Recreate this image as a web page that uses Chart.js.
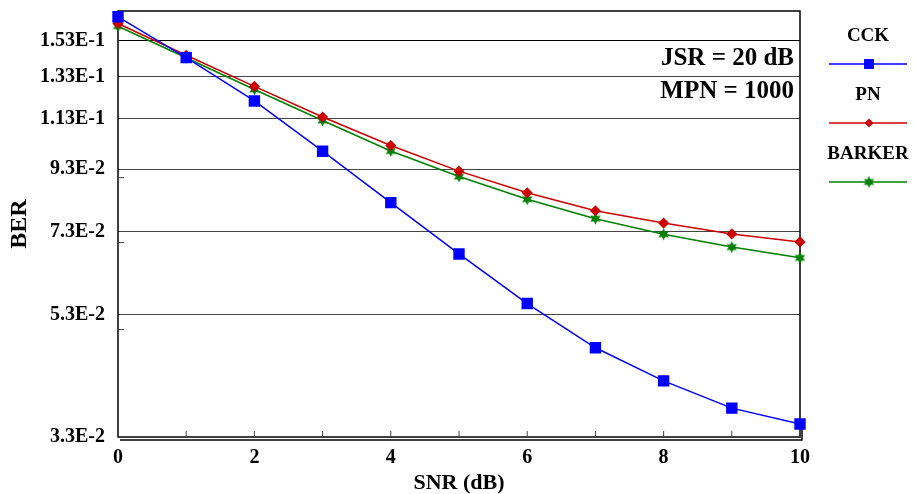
<!DOCTYPE html>
<html>
<head>
<meta charset="utf-8">
<script src="https://cdn.jsdelivr.net/npm/chart.js@4/dist/chart.umd.min.js"></script>
<style>
  html, body { margin: 0; padding: 0; background: #fff; }
  #wrap { width: 914px; height: 494px; position: relative; }
</style>
</head>
<body>
<div id="wrap"><canvas id="chart"></canvas></div>
<script>
const snr = [0, 1, 2, 3, 4, 5, 6, 7, 8, 9, 10];
const cck = [0.1677, 0.1432, 0.1211, 0.0997, 0.0817, 0.0670, 0.0553, 0.0466, 0.0410, 0.0369, 0.0347];
const pn = [0.1634, 0.1445, 0.1281, 0.1138, 0.1019, 0.0923, 0.0849, 0.0792, 0.0755, 0.0724, 0.0702];
const barker = [0.1617, 0.1431, 0.1266, 0.1123, 0.0998, 0.0904, 0.0828, 0.0768, 0.0723, 0.0688, 0.0660];
const yTicks = [0.153, 0.133, 0.113, 0.093, 0.073, 0.053, 0.033];
const yLabels = ['1.53E-1', '1.33E-1', '1.13E-1', '9.3E-2', '7.3E-2', '5.3E-2', '3.3E-2'];
const yMinor = [0.09, 0.07, 0.05];
const notes = ['JSR = 20 dB', 'MPN = 1000'];

const serif = "'Liberation Serif', 'Times New Roman', serif";

// six-pointed star marker for BARKER
function starImage(color) {
    const c = document.createElement('canvas');
    c.width = 13; c.height = 13;
    const g = c.getContext('2d');
    g.fillStyle = color;
    g.beginPath();
    for (let i = 0; i < 12; i++) {
        const r = i % 2 === 0 ? 6 : 3.2;
        const a = -Math.PI / 2 + i * Math.PI / 6;
        const px = 6.5 + r * Math.cos(a), py = 6.5 + r * Math.sin(a);
        if (i === 0) g.moveTo(px, py); else g.lineTo(px, py);
    }
    g.closePath();
    g.fill();
    return c;
}
const barkerStar = starImage('#008000');

function drawMarker(ctx, ds, x, y) {
    ctx.save();
    ctx.fillStyle = ds.pointBackgroundColor;
    if (ds.pointStyle === 'rect') {
        const s = ds.pointRadius * Math.SQRT1_2;
        ctx.fillRect(x - s, y - s, 2 * s, 2 * s);
    } else if (ds.pointStyle === 'rectRot') {
        const r = ds.pointRadius;
        ctx.beginPath();
        ctx.moveTo(x, y - r); ctx.lineTo(x + r, y); ctx.lineTo(x, y + r); ctx.lineTo(x - r, y);
        ctx.closePath(); ctx.fill();
    } else {
        ctx.drawImage(ds.pointStyle, x - 6.5, y - 6.5);
    }
    ctx.restore();
}

const framePlugin = {
    id: 'frame',
    beforeDatasetsDraw(chart) {
        const ctx = chart.ctx, a = chart.chartArea;
        const xs = chart.scales.x, ys = chart.scales.y;
        ctx.save();
        ctx.strokeStyle = '#000';
        ctx.lineWidth = 1.5;
        ctx.strokeRect(a.left, a.top, a.right - a.left, a.bottom - a.top);
        // second bottom line
        ctx.beginPath();
        ctx.moveTo(a.left + 2, a.bottom + 3);
        ctx.lineTo(a.right + 2, a.bottom + 3);
        ctx.lineTo(a.right + 2, a.bottom - 8);
        ctx.stroke();
        // inner x ticks
        ctx.lineWidth = 1;
        ctx.strokeStyle = '#444';
        snr.forEach(v => {
            const px = xs.getPixelForValue(v);
            ctx.beginPath();
            ctx.moveTo(px, a.bottom);
            ctx.lineTo(px, a.bottom - 6);
            ctx.stroke();
        });
        // minor y ticks
        yMinor.forEach(v => {
            const py = ys.getPixelForValue(v);
            ctx.beginPath();
            ctx.moveTo(a.left, py);
            ctx.lineTo(a.left + 6, py);
            ctx.stroke();
        });
        ctx.restore();
    },
    afterDraw(chart) {
        const ctx = chart.ctx, a = chart.chartArea;
        ctx.save();
        // notes in top right
        ctx.fillStyle = '#000';
        ctx.font = 'bold 25px ' + serif;
        ctx.textAlign = 'right';
        ctx.textBaseline = 'middle';
        notes.forEach((t, i) => ctx.fillText(t, a.right - 6, a.top + 48 + i * 33));
        // legend at the right
        ctx.textAlign = 'center';
        ctx.font = 'bold 19px ' + serif;
        chart.data.datasets.forEach((ds, i) => {
            const cy = a.top + 25 + i * 59;
            ctx.fillStyle = '#000';
            ctx.fillText(ds.label, 868, cy);
            ctx.strokeStyle = ds.borderColor;
            ctx.lineWidth = 1.5;
            ctx.beginPath();
            ctx.moveTo(829, cy + 28);
            ctx.lineTo(907, cy + 28);
            ctx.stroke();
            drawMarker(ctx, ds, 869, cy + 28);
        });
        ctx.restore();
    }
};

const data = {
    labels: snr,
    datasets: [{
        label: 'CCK',
        data: cck,
        borderColor: '#0000ff',
        pointBackgroundColor: '#0000ff',
        pointBorderColor: '#0000ff',
        pointStyle: 'rect',
        pointRadius: 7,
        borderWidth: 1.5
    },
    {
        label: 'PN',
        data: pn,
        borderColor: '#cc0000',
        pointBackgroundColor: '#cc0000',
        pointBorderColor: '#cc0000',
        pointStyle: 'rectRot',
        pointRadius: 4.5,
        borderWidth: 1.5
    },
    {
        label: 'BARKER',
        data: barker,
        borderColor: '#008000',
        pointBackgroundColor: '#008000',
        pointBorderColor: '#008000',
        pointStyle: barkerStar,
        pointRadius: 6,
        borderWidth: 1.5
    }]
};

const config = {
    type: 'line',
    data: data,
    plugins: [framePlugin],
    options: {
        responsive: false,
        animation: false,
        clip: false,
        layout: { padding: { top: 11, right: 114, left: 0, bottom: 0 } },
        plugins: { legend: { display: false }, tooltip: { enabled: false } },
        elements: { line: { tension: 0 }, point: { borderWidth: 0 } },
        scales: {
            x: {
                type: 'linear',
                min: 0,
                max: 10,
                afterFit: s => { s.height = 57; },
                border: { display: false },
                grid: { display: false, drawTicks: false },
                ticks: {
                    stepSize: 1,
                    autoSkip: false,
                    maxRotation: 0,
                    padding: 9,
                    color: '#000',
                    font: { family: serif, size: 20, weight: 'bold' },
                    callback: v => (v % 2 === 0 ? v : '')
                },
                title: {
                    display: true,
                    text: 'SNR (dB)',
                    color: '#000',
                    padding: 0,
                    font: { family: serif, size: 22, weight: 'bold', lineHeight: 1 }
                }
            },
            y: {
                type: 'logarithmic',
                min: 0.033,
                max: 0.1715,
                afterFit: s => { s.width = 118; s.paddingTop = 0; s.paddingBottom = 0; },
                afterBuildTicks: s => { s.ticks = yTicks.map(v => ({ value: v })); },
                border: { display: false },
                grid: {
                    drawTicks: false,
                    lineWidth: 1,
                    color: c => (c.tick && c.tick.value === 0.033 ? 'rgba(0,0,0,0)' : (c.index === 0 ? '#000' : '#444'))
                },
                ticks: {
                    padding: 13,
                    color: '#000',
                    font: { family: serif, size: 20, weight: 'bold' },
                    callback: (v, i) => yLabels[i]
                },
                title: {
                    display: true,
                    text: 'BER',
                    color: '#000',
                    padding: { top: 5, bottom: 0 },
                    font: { family: serif, size: 24, weight: 'bold' }
                }
            }
        }
    }
};

const canvas = document.getElementById('chart');
canvas.width = 914;
canvas.height = 494;
const myChart = new Chart(canvas, config);
</script>
</body>
</html>
